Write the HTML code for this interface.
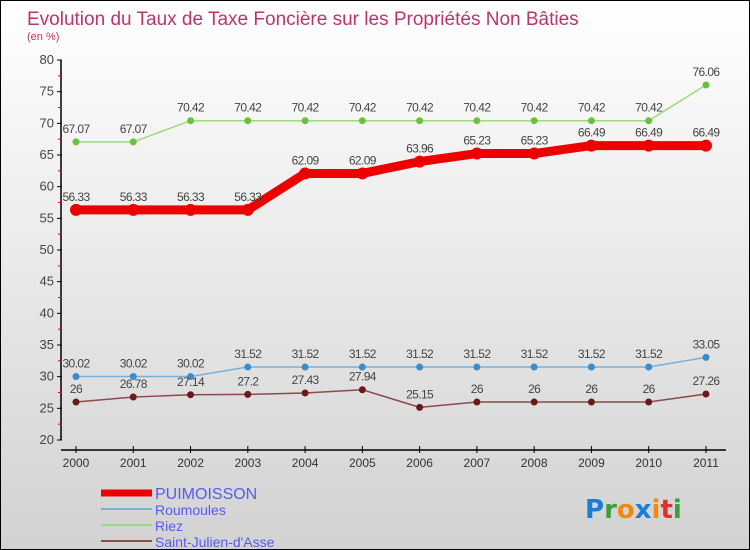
<!DOCTYPE html>
<html><head><meta charset="utf-8"><style>
body{margin:0}
#c{width:750px;height:550px;position:relative;box-sizing:border-box;border:1px solid #000;background:linear-gradient(#ffffff,#d2d2d2);font-family:"Liberation Sans",sans-serif;overflow:hidden}
</style></head><body>
<div id="c">
<svg id="s" width="748" height="548"></svg>
</div>
<script>
const years=["2000","2001","2002","2003","2004","2005","2006","2007","2008","2009","2010","2011"];
const puimoisson=[56.33,56.33,56.33,56.33,62.09,62.09,63.96,65.23,65.23,66.49,66.49,66.49];
const roumoules=[30.02,30.02,30.02,31.52,31.52,31.52,31.52,31.52,31.52,31.52,31.52,33.05];
const riez=[67.07,67.07,70.42,70.42,70.42,70.42,70.42,70.42,70.42,70.42,70.42,76.06];
const stjulien=[26,26.78,27.14,27.2,27.43,27.94,25.15,26,26,26,26,27.26];
const yTicks=[20,25,30,35,40,45,50,55,60,65,70,75,80];
const NS="http://www.w3.org/2000/svg",s=document.getElementById('s');
const X=i=>75+i*57.27, Y=v=>439-(v-20)*6.333;
function el(t,a,p){const e=document.createElementNS(NS,t);for(const k in a)e.setAttribute(k,a[k]);(p||s).appendChild(e);return e;}
function tx(x,y,str,a){const e=el('text',Object.assign({x:x,y:y},a));e.textContent=str;return e;}
let t=tx(26,24,"Evolution du Taux de Taxe Foncière sur les Propriétés Non Bâties",{fill:"#c0336a","font-size":19});

t=tx(26,39,"(en %)",{fill:"#c0336a","font-size":11});

let ax=el('line',{x1:60,y1:59,x2:60,y2:439,stroke:"#000","stroke-width":1.5});

yTicks.forEach((v,i)=>{el('line',{x1:56,x2:61,y1:Y(v),y2:Y(v),stroke:"#000"});
 let l=tx(53,Y(v)+4,String(v),{fill:"#444","font-size":13,"text-anchor":"end"});
 
 if(i<yTicks.length-1)el('line',{x1:57,x2:61,y1:Y(v+2.5),y2:Y(v+2.5),stroke:"#e00"});});
ax=el('line',{x1:60,y1:449,x2:725,y2:449,stroke:"#000","stroke-width":1.5});

years.forEach((y,i)=>{el('line',{x1:X(i),x2:X(i),y1:445,y2:452,stroke:"#000"});
 let l=tx(X(i),466,y,{fill:"#333","font-size":12,"text-anchor":"middle"});
 });
function series(name,d,col,w,r,fill){
 const g=el('g',{});
 el('polyline',{points:d.map((v,i)=>X(i)+','+Y(v)).join(' '),fill:'none',stroke:col,'stroke-width':w,'stroke-linejoin':'round'},g);
 d.forEach((v,i)=>{const c=el('circle',{cx:X(i),cy:Y(v),r:r,fill:fill},g);
  
  tx(X(i),Y(v)-9,String(v),{fill:"#444","font-size":12,"text-anchor":"middle","letter-spacing":"-0.6"},g);});
}
series('riez',riez,'#9edc7a',1.5,3.5,'#6cc13c');
series('roumoules',roumoules,'#7ab0d8',1.5,3.5,'#3a8ccc');
series('saint-julien',stjulien,'#8c4a4a',1.5,3.5,'#6a1a1a');
series('puimoisson',puimoisson,'#ee0000',9,6,'#ee0000');
const leg=[["PUIMOISSON","#ee0000",7],["Roumoules","#7ab0d8",2],["Riez","#9edc7a",2],["Saint-Julien-d'Asse","#8c4a4a",2]];
leg.forEach((l,i)=>{const y=492+i*16;const g=el('g',{});
 
 el('line',{x1:100,x2:151,y1:y,y2:y,stroke:l[1],'stroke-width':l[2]},g);
 tx(154,y+6,l[0],{fill:"#5a5aee","font-size":i==0?16:14},g);});
const lg=el('text',{x:584,y:517,'font-size':26,'font-family':'"DejaVu Sans",sans-serif','font-weight':'bold'});

[["P","#1a7fd4"],["r","#3aa03a"],["o","#f08a10"],["x","#1a7fd4"],["i","#f08a10"],["t","#e03030"],["i","#3aa03a"]].forEach(p=>{const ts=el('tspan',{fill:p[1]},lg);ts.textContent=p[0];});
</script>
</body></html>
